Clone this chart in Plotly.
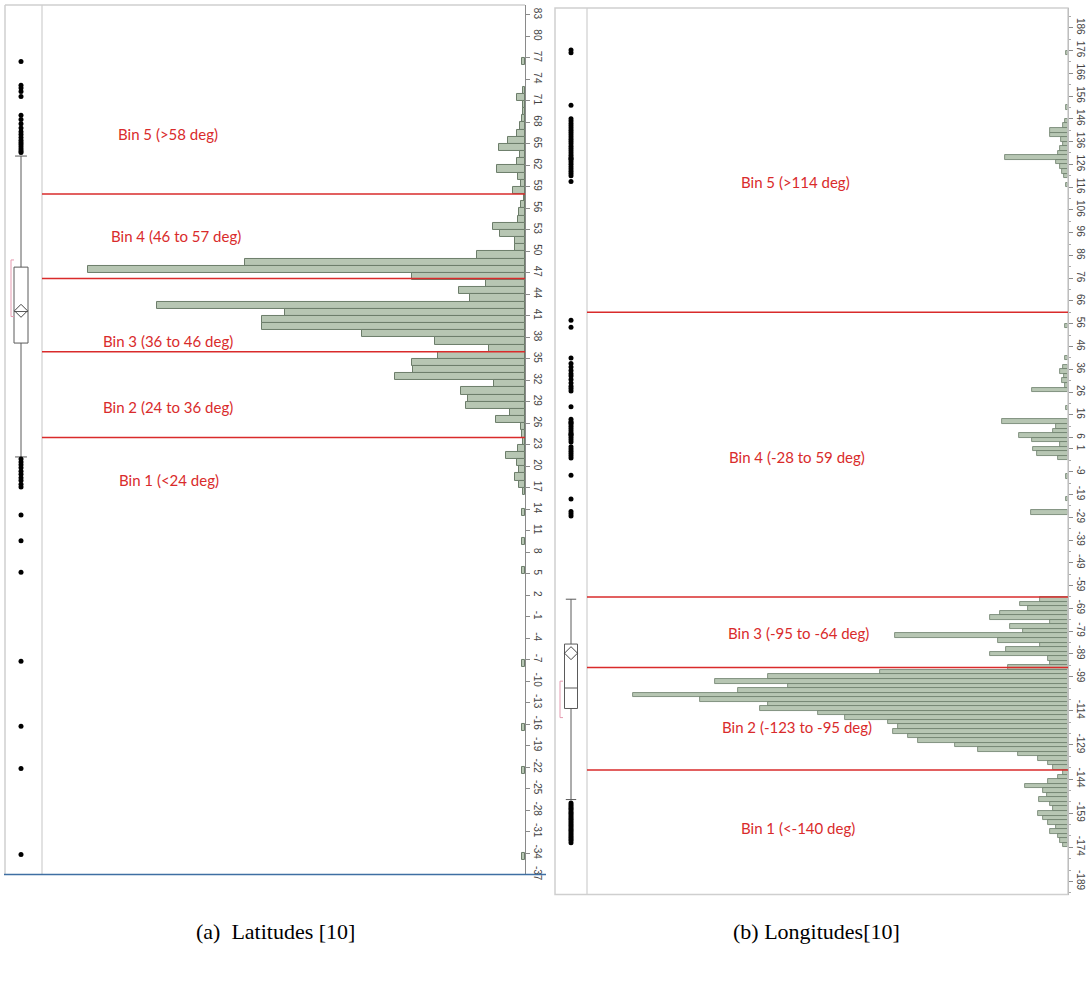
import plotly.graph_objects as go

W, H = 1086, 982

# ---------------- data: latitudes (1-degree bins, lower edge) ----------------
lat_bin_start = [76, 72, 71, 70, 69, 68, 67, 66, 65, 64, 63, 62, 61, 60, 59, 58, 57, 56, 55, 54,
                 53, 52, 51, 50, 49, 48, 47, 46, 45, 44, 43, 42, 41, 40, 39, 38, 37, 36, 35, 34,
                 33, 32, 31, 30, 29, 28, 27, 26, 25, 24, 23, 22, 21, 20, 19, 18, 17, 16,
                 13, 9, 5, -8, -17, -23, -35]
lat_counts = [3, 2, 8, 2, 2, 3, 5, 8, 17, 26, 5, 8, 28, 7, 4, 12, 1, 4, 6, 7,
              32, 25, 10, 10, 48, 280, 437, 113, 39, 66, 55, 368, 240, 263, 263, 163, 90, 36, 87, 113,
              112, 130, 31, 64, 57, 59, 15, 29, 4, 3, 2, 7, 19, 8, 6, 10, 6, 2,
              3, 3, 3, 3, 3, 3, 3]
lat_bin_width = 1

lat_box = dict(q1=37.2, median=41.6, q3=47.8, lowerfence=21.3, upperfence=63.3, mean=41.7)
lat_shortest_half = [40.9, 48.8]
lat_outliers = [76.5, 73.2, 72.8, 72.3, 71.6, 69.0, 68.4, 67.8, 67.2, 66.7, 66.3, 65.9, 65.5, 65.2,
                64.9, 64.6, 64.3, 64.0, 63.8, 21.0, 20.6, 20.2, 19.8, 19.3, 18.9, 18.4, 18.0, 17.5,
                17.1, 13.2, 9.6, 5.2, -7.2, -16.3, -22.2, -34.2]
lat_bin_edges = [58, 46.2, 36, 24]
lat_ticks = [83, 80, 77, 74, 71, 68, 65, 62, 59, 56, 53, 50, 47, 44, 41, 38, 35, 32, 29, 26, 23,
             20, 17, 14, 11, 8, 5, 2, -1, -4, -7, -10, -13, -16, -19, -22, -25, -28, -31, -34, -37]
lat_bin_labels = ["Bin 5 (>58 deg)", "Bin 4 (46 to 57 deg)", "Bin 3 (36 to 46 deg)",
                  "Bin 2 (24 to 36 deg)", "Bin 1 (<24 deg)"]

# ---------------- data: longitudes (2-degree bins, centre) ----------------
lon_bin_center = [175, 151, 145, 143, 141, 139, 137, 135, 133, 131, 129, 127, 125, 123, 121, 117,
                  55, 41, 37, 35, 33, 31, 29, 27, 19, 13, 11, 9, 7, 5, 3, 1, -1, -3, -11, -21, -27,
                  -65, -67, -69, -71, -73, -75, -77, -79, -81, -83, -85, -87, -89, -91, -93,
                  -95, -97, -99, -101, -103, -105, -107, -109, -111, -113, -115, -117, -119, -121,
                  -123, -125, -127, -129, -131, -133, -135, -137, -139,
                  -141, -143, -145, -147, -149, -151, -153, -155, -157, -159, -161, -163, -165,
                  -167, -169, -171, -173]
lon_counts = [2, 2, 3, 5, 18, 18, 7, 5, 8, 10, 63, 12, 8, 6, 4, 2,
              3, 3, 5, 8, 4, 6, 3, 36, 2, 66, 12, 15, 49, 36, 8, 35, 31, 10, 2, 2, 37,
              28, 48, 40, 68, 78, 18, 58, 45, 173, 70, 28, 62, 78, 20, 18,
              60, 188, 300, 353, 280, 330, 435, 368, 300, 308, 250, 223, 180, 170,
              175, 160, 150, 113, 90, 50, 30, 20, 15,
              5, 10, 20, 43, 25, 21, 29, 18, 15, 30, 25, 20, 12,
              18, 10, 8, 5]
lon_bin_width = 2

lon_box = dict(q1=-113.0, median=-104.0, q3=-84.7, lowerfence=-153.0, upperfence=-65.0, mean=-88.7)
lon_shortest_half = [-117.0, -101.0]
lon_outliers = [176.2, 175.0, 152.0, 146.0, 145.0, 144.0, 143.0, 142.0, 141.0, 140.0, 139.0, 138.0,
                137.0, 136.0, 135.0, 134.0, 133.0, 132.0, 131.0, 130.0, 129.0, 128.5, 128.0, 127.0,
                126.0, 125.0, 124.0, 123.0, 122.0, 121.0, 118.5, 57.5, 54.5, 41.0, 38.5, 37.0,
                35.5, 34.0, 33.0, 31.5, 30.0, 28.5, 27.5, 26.5, 19.5, 14.0, 13.0, 12.5, 12.0,
                11.0, 10.0, 9.0, 8.0, 7.5, 7.0, 6.0, 5.0, 4.0, 2.0, 1.0, 0.0, -1.0, -2.0, -3.0,
                -10.5, -21.0, -26.5, -27.5, -28.5,
                -154.5, -155.3, -156.0, -156.8, -157.5, -158.3, -159.0, -159.8, -160.5, -161.3,
                -162.0, -162.8, -163.5, -164.3, -165.0, -165.8, -166.5, -167.3, -168.0, -168.8,
                -169.5, -170.3, -171.0, -172.0]
lon_bin_edges = [61, -64, -95, -140]
lon_tick_labels = [186, 176, 166, 156, 146, 136, 126, 116, 106, 96, 86, 76, 66, 56, 46, 36, 26, 16,
                   6, 1, -9, -19, -29, -39, -49, -59, -69, -79, -89, -99, -114, -129, -144, -159,
                   -174, -189]
lon_bin_labels = ["Bin 5 (>114 deg)", "Bin 4 (-28 to 59 deg)", "Bin 3 (-95 to -64 deg)",
                  "Bin 2 (-123 to -95 deg)", "Bin 1 (<-140 deg)"]

captions = ["(a)  Latitudes [10]", "(b) Longitudes[10]"]

# ---------------- layout helpers (pixel -> paper) ----------------
def px(x):
    return x / W


def py(y):
    return 1 - y / H


BAR_FILL = "#b7c6b3"
BAR_EDGE = "#6c7d6a"
RED = "#d92b2b"
FRAME = "#cfcfcf"

fig = go.Figure()

# ---------- left: box column ----------
fig.add_trace(go.Box(
    x=[0], q1=[lat_box["q1"]], median=[lat_box["median"]], q3=[lat_box["q3"]],
    lowerfence=[lat_box["lowerfence"]], upperfence=[lat_box["upperfence"]],
    width=14, whiskerwidth=0.85, fillcolor="white", boxpoints=False,
    line=dict(color="#5a5a5a", width=1), xaxis="x", yaxis="y", hoverinfo="skip"))
fig.add_trace(go.Scatter(x=[0] * len(lat_outliers), y=lat_outliers, mode="markers",
                         marker=dict(color="black", size=5), xaxis="x", yaxis="y"))
fig.add_trace(go.Scatter(x=[0], y=[lat_box["mean"]], mode="markers",
                         marker=dict(symbol="diamond-open", size=10, color="#444",
                                     line=dict(width=1)), xaxis="x", yaxis="y"))
fig.add_trace(go.Scatter(x=[-7, -10, -10, -7], y=[lat_shortest_half[0], lat_shortest_half[0],
                                                 lat_shortest_half[1], lat_shortest_half[1]],
                         mode="lines", line=dict(color="#e59bb0", width=1), xaxis="x", yaxis="y"))

# ---------- left: histogram ----------
fig.add_trace(go.Bar(y=[b + lat_bin_width / 2 for b in lat_bin_start], x=lat_counts,
                     width=lat_bin_width, orientation="h",
                     marker=dict(color=BAR_FILL, line=dict(color=BAR_EDGE, width=1)),
                     xaxis="x2", yaxis="y2"))

# ---------- right: box column ----------
fig.add_trace(go.Box(
    x=[0], q1=[lon_box["q1"]], median=[lon_box["median"]], q3=[lon_box["q3"]],
    lowerfence=[lon_box["lowerfence"]], upperfence=[lon_box["upperfence"]],
    width=13, whiskerwidth=0.8, fillcolor="white", boxpoints=False,
    line=dict(color="#5a5a5a", width=1), xaxis="x3", yaxis="y3", hoverinfo="skip"))
fig.add_trace(go.Scatter(x=[0] * len(lon_outliers), y=lon_outliers, mode="markers",
                         marker=dict(color="black", size=5), xaxis="x3", yaxis="y3"))
fig.add_trace(go.Scatter(x=[0], y=[lon_box["mean"]], mode="markers",
                         marker=dict(symbol="diamond-open", size=10, color="#444",
                                     line=dict(width=1)), xaxis="x3", yaxis="y3"))
fig.add_trace(go.Scatter(x=[-8, -11, -11, -8], y=[lon_shortest_half[0], lon_shortest_half[0],
                                                 lon_shortest_half[1], lon_shortest_half[1]],
                         mode="lines", line=dict(color="#e59bb0", width=1), xaxis="x3", yaxis="y3"))

# ---------- right: histogram ----------
fig.add_trace(go.Bar(y=lon_bin_center, x=lon_counts, width=lon_bin_width, orientation="h",
                     marker=dict(color=BAR_FILL, line=dict(color=BAR_EDGE, width=0.8)),
                     xaxis="x4", yaxis="y4"))

# axis ranges
lat_range = [-37, 84.39]
lon_range = [-194.7, 194.7]

hidden = dict(visible=False, showgrid=False, zeroline=False, fixedrange=True)
tickfont = dict(family="Liberation Sans, Arial", size=10, color="#444")

fig.update_layout(
    width=W, height=H, margin=dict(l=0, r=0, t=0, b=0),
    paper_bgcolor="white", plot_bgcolor="rgba(0,0,0,0)", showlegend=False, bargap=0,
    xaxis=dict(domain=[px(5), px(42)], range=[-16, 21], anchor="y", **hidden),
    yaxis=dict(domain=[py(880), py(5)], range=lat_range, anchor="x", **hidden),
    xaxis2=dict(domain=[px(42), px(525)], range=[483, 0], anchor="y2", **hidden),
    yaxis2=dict(domain=[py(880), py(5)], range=lat_range, anchor="x2", side="right",
                showgrid=False, zeroline=False, showline=True, linecolor="#8a8a8a", linewidth=1,
                ticks="outside", ticklen=4, tickcolor="#8a8a8a", tickangle=90,
                tickmode="array", tickvals=lat_ticks, ticktext=[str(t) for t in lat_ticks],
                tickfont=tickfont),
    xaxis3=dict(domain=[px(555), px(587)], range=[-16, 16], anchor="y3", **hidden),
    yaxis3=dict(domain=[py(900), py(8)], range=lon_range, anchor="x3", **hidden),
    xaxis4=dict(domain=[px(587), px(1068)], range=[481, 0], anchor="y4", **hidden),
    yaxis4=dict(domain=[py(900), py(8)], range=lon_range, anchor="x4", side="right",
                showgrid=False, zeroline=False, showline=True, linecolor="#8a8a8a", linewidth=1,
                ticks="outside", ticklen=4, tickcolor="#8a8a8a", tickangle=90,
                tickmode="array", tickvals=lon_tick_labels,
                ticktext=[str(t) for t in lon_tick_labels], tickfont=tickfont,
                minor=dict(ticks="outside", ticklen=2, tickcolor="#aaaaaa",
                           tickmode="linear", tick0=186, dtick=5)),
)

shapes = []
# left frame
shapes.append(dict(type="line", xref="paper", yref="paper", x0=px(5), x1=px(525), y0=py(5), y1=py(5),
                   line=dict(color=FRAME, width=1.5)))
shapes.append(dict(type="line", xref="paper", yref="paper", x0=px(5), x1=px(5), y0=py(5), y1=py(880),
                   line=dict(color=FRAME, width=1.5)))
shapes.append(dict(type="line", xref="paper", yref="paper", x0=px(42), x1=px(42), y0=py(5), y1=py(880),
                   line=dict(color=FRAME, width=1.2)))
shapes.append(dict(type="line", xref="paper", yref="paper", x0=px(4), x1=px(546), y0=py(880), y1=py(880),
                   line=dict(color="#3f6fa3", width=1.5)))
# right frame
shapes.append(dict(type="rect", xref="paper", yref="paper", x0=px(555), x1=px(1068), y0=py(900), y1=py(8),
                   line=dict(color=FRAME, width=1.5)))
shapes.append(dict(type="line", xref="paper", yref="paper", x0=px(587), x1=px(587), y0=py(8), y1=py(900),
                   line=dict(color=FRAME, width=1.2)))
# red bin boundaries
for v in lat_bin_edges:
    shapes.append(dict(type="line", xref="paper", yref="y2", x0=px(42), x1=px(525), y0=v, y1=v,
                       line=dict(color=RED, width=1.5)))
for v in lon_bin_edges:
    shapes.append(dict(type="line", xref="paper", yref="y4", x0=px(587), x1=px(1068), y0=v, y1=v,
                       line=dict(color=RED, width=1.5)))
fig.update_layout(shapes=shapes)

annotations = []
lat_label_pos = [(168, 135), (176, 237), (168, 343), (168, 410), (169, 483)]
lon_label_pos = [(795, 183), (797, 460), (798, 637), (797, 731), (798, 833)]
for text, (x, y) in zip(lat_bin_labels, lat_label_pos):
    annotations.append(dict(text=text, x=px(x), y=py(y), xref="paper", yref="paper", showarrow=False,
                            xanchor="center", yanchor="middle",
                            font=dict(family="Lato, Open Sans", size=15, color=RED)))
for text, (x, y) in zip(lon_bin_labels, lon_label_pos):
    annotations.append(dict(text=text, x=px(x), y=py(y), xref="paper", yref="paper", showarrow=False,
                            xanchor="center", yanchor="middle",
                            font=dict(family="Lato, Open Sans", size=15, color=RED)))
for text, x in zip(captions, [275, 816]):
    annotations.append(dict(text=text, x=px(x), y=py(937), xref="paper", yref="paper", showarrow=False,
                            xanchor="center", yanchor="middle",
                            font=dict(family="Liberation Serif, Times New Roman", size=22, color="black")))
fig.update_layout(annotations=annotations)

fig.write_html("out.html")
